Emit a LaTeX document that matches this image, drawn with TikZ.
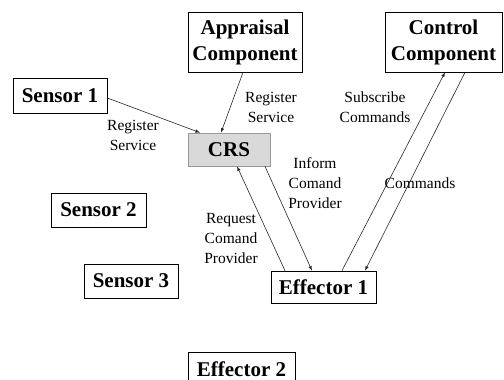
\documentclass[tikz,border=0pt]{standalone}
\usepackage{fontspec}
\setmainfont{Liberation Serif}
\usetikzlibrary{arrows,positioning}

\tikzset{
  box/.style={draw, line width=0.7pt, align=center, inner sep=0pt,
    font=\fontsize{21}{26}\selectfont\bfseries},
  lbl/.style={align=center, inner sep=0pt, font=\fontsize{15.5}{20}\selectfont},
  link/.style={-latex, line width=0.6pt, black!85},
}

\begin{document}
\begin{tikzpicture}[x=1pt,y=-1pt]
\useasboundingbox (0,0) rectangle (504,380);

% components
\node[box, minimum width=114pt, minimum height=60pt] (appr) at (245,42) {Appraisal\\Component};
\node[box, minimum width=117pt, minimum height=60pt] (ctrl) at (443.5,42) {Control\\Component};
\node[box, minimum width=82pt, minimum height=33pt, fill=black!15, draw=black!40] (crs) at (229,149.5) {CRS};

% sensors and effectors
\node[box, minimum width=94pt, minimum height=35pt] (sen1) at (60,95.5) {Sensor 1};
\node[box, minimum width=95pt, minimum height=34pt] (sen2) at (98.5,210) {Sensor 2};
\node[box, minimum width=94pt, minimum height=34pt] (sen3) at (131,281) {Sensor 3};
\node[box, minimum width=105pt, minimum height=32pt] (eff1) at (323.5,287) {Effector 1};
\node[box, minimum width=107pt, minimum height=34pt] (eff2) at (241.5,369) {Effector 2};

% connectors
\draw[link] ([yshift=-2.5pt]sen1.east) -- ([xshift=-29pt]crs.north);
\draw[link] ([xshift=-2pt]appr.south) -- ([xshift=-8pt]crs.north);
\draw[link] ([xshift=-38.5pt]eff1.north) -- ([xshift=8pt]crs.south);
\draw[link] ([xshift=36pt]crs.south) -- ([xshift=-11.5pt]eff1.north);
\draw[link] ([xshift=18.5pt]eff1.north) -- ([xshift=1.5pt]ctrl.south);
\draw[link] ([xshift=21.5pt]ctrl.south) -- ([xshift=41.5pt]eff1.north);

% labels
\node[lbl] (regA) at (133,135) {Register\\Service};
\node[lbl] (regB) at (271,107) {Register\\Service};
\node[lbl] (subs) at (375,107) {Subscribe\\Commands};
\node[lbl] (info) at (315,183) {Inform\\Comand\\Provider};
\node[lbl] (cmds) at (420,183) {Commands};
\node[lbl] (reqs) at (231,238) {Request\\Comand\\Provider};
\end{tikzpicture}
\end{document}
